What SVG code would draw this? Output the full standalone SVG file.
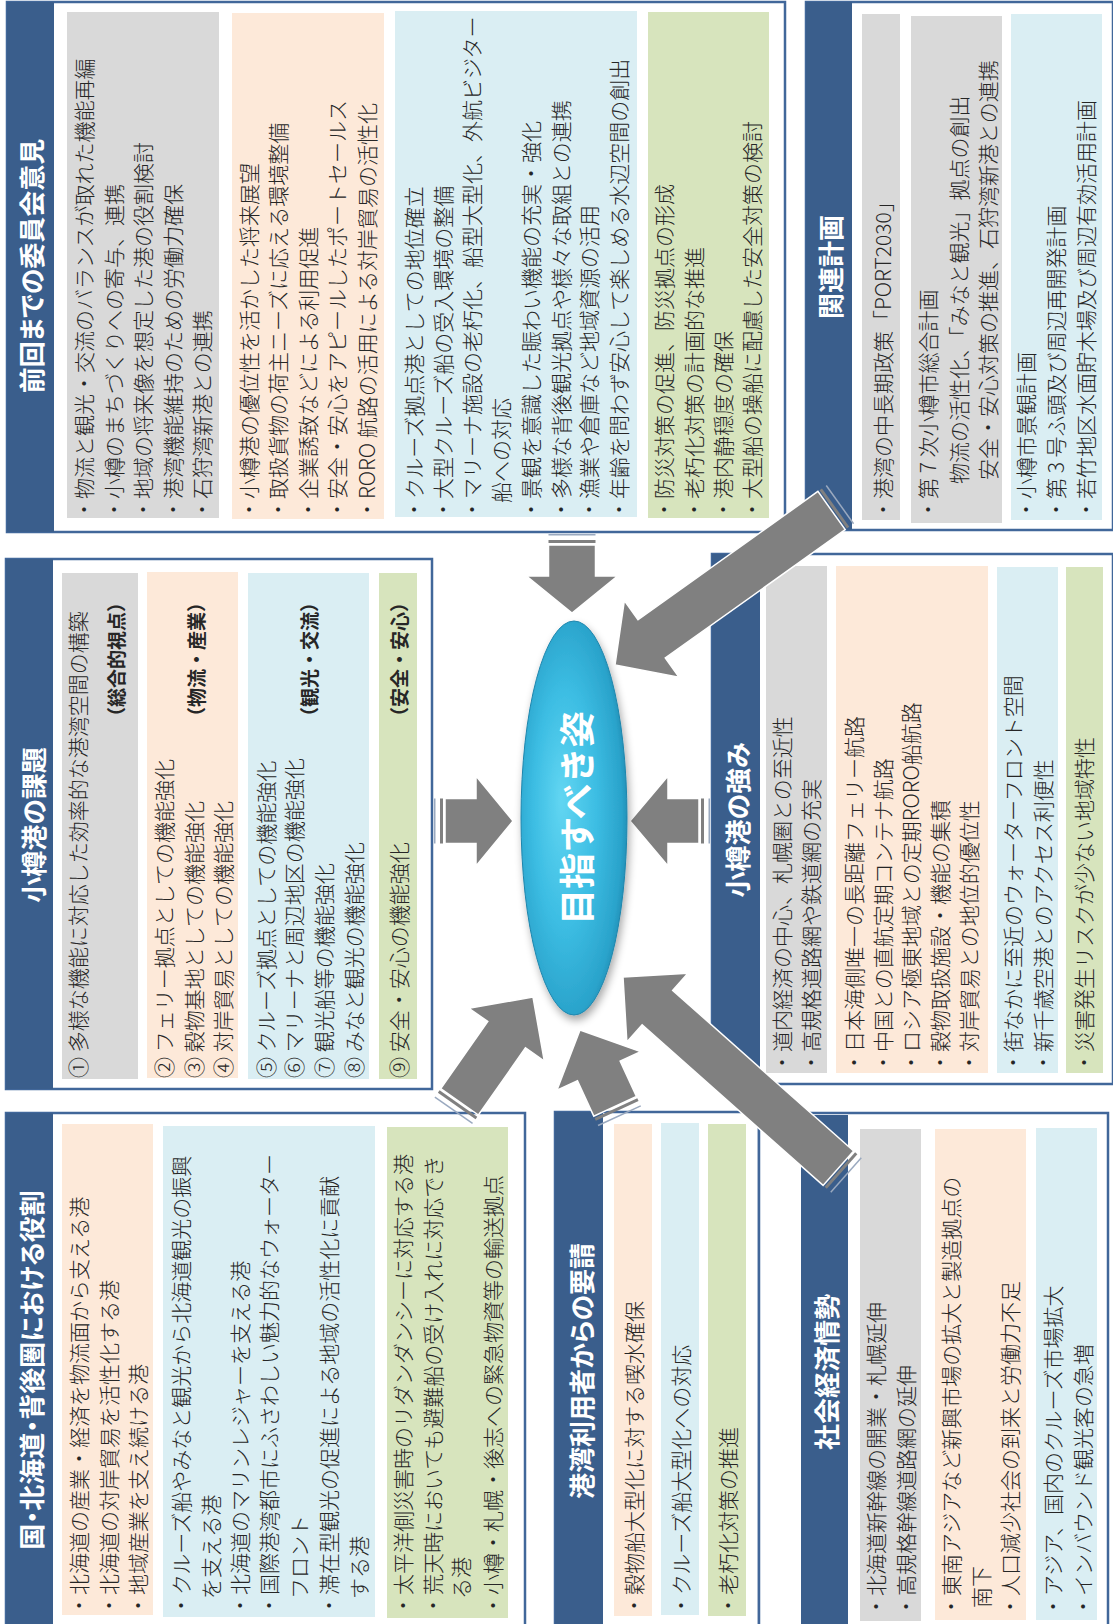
<svg xmlns="http://www.w3.org/2000/svg" width="1113" height="1624" viewBox="0 0 1113 1624">
<defs>
<style>
.frame{fill:#fff;stroke:#41679a;stroke-width:2.5}
.hdr{fill:#3a5e8c}
.g{fill:#d9d9d9}.p{fill:#fde9d9}.b{fill:#daeef3}.gr{fill:#d7e4bd}
text{font-family:"Noto Sans CJK JP","Noto Sans CJK SC",sans-serif;dominant-baseline:central}
.t{font-size:21px;fill:#262626;font-weight:300}
.h{font-size:26px;font-weight:bold;fill:#fff;text-anchor:middle;font-feature-settings:"palt" 1}
.lb{font-size:19px;font-weight:bold;fill:#262626;text-anchor:end}
.ct{font-size:36px;font-weight:bold;fill:#fff;text-anchor:middle}
.arr{fill:#808080;stroke:#fff;stroke-width:1.5}
.s1{fill:#808080}.s2{fill:#9aa9bf}
</style>
<radialGradient id="eg" cx="0.45" cy="0.5" r="0.6" fx="0.38" fy="0.45">
<stop offset="0" stop-color="#62d6f2"/>
<stop offset="0.5" stop-color="#3cbde3"/>
<stop offset="0.85" stop-color="#2aa3cb"/>
<stop offset="1" stop-color="#1c82a8"/>
</radialGradient>
<filter id="sh" x="-30%" y="-10%" width="160%" height="125%">
<feGaussianBlur in="SourceAlpha" stdDeviation="4"/>
<feOffset dx="2" dy="5" result="o"/>
<feComponentTransfer><feFuncA type="linear" slope="0.35"/></feComponentTransfer>
<feMerge><feMergeNode/><feMergeNode in="SourceGraphic"/></feMerge>
</filter>
</defs>
<rect width="1113" height="1624" fill="#fff"/>

<g id="node-iinkai">
<rect class="frame" x="7" y="2" width="778" height="530"/>
<rect class="hdr" x="7" y="2" width="47" height="530"/>
<rect class="g" x="67" y="12" width="152" height="506"/>
<rect class="p" x="232" y="13" width="152" height="506"/>
<rect class="b" x="395" y="11" width="242" height="506"/>
<rect class="gr" x="648" y="12" width="121" height="506"/>
<g transform="matrix(0,-1,1,0,0,1624)">
<text class="h" x="1358" y="30">前回までの委員会意見</text>
<text class="t" x="1104" y="83">・物流と観光・交流のバランスが取れた機能再編</text>
<text class="t" x="1104" y="113">・小樽のまちづくりへの寄与、連携</text>
<text class="t" x="1104" y="142">・地域の将来像を想定した港の役割検討</text>
<text class="t" x="1104" y="172">・港湾機能維持のための労働力確保</text>
<text class="t" x="1104" y="201">・石狩湾新港との連携</text>
<text class="t" x="1104" y="248">・小樽港の優位性を活かした将来展望</text>
<text class="t" x="1104" y="277">・取扱貨物の荷主ニーズに応える環境整備</text>
<text class="t" x="1104" y="307">・企業誘致などによる利用促進</text>
<text class="t" x="1104" y="336">・安全・安心をアピールしたポートセールス</text>
<text class="t" x="1104" y="366">・RORO 航路の活用による対岸貿易の活性化</text>
<text class="t" x="1104" y="413">・クルーズ拠点港としての地位確立</text>
<text class="t" x="1104" y="442">・大型クルーズ船の受入環境の整備</text>
<text class="t" x="1104" y="471">・マリーナ施設の老朽化、船型大型化、外航ビジター</text>
<text class="t" x="1121" y="500">船への対応</text>
<text class="t" x="1104" y="530">・景観を意識した賑わい機能の充実・強化</text>
<text class="t" x="1104" y="560">・多様な背後観光拠点や様々な取組との連携</text>
<text class="t" x="1104" y="588">・漁業や倉庫など地域資源の活用</text>
<text class="t" x="1104" y="618">・年齢を問わず安心して楽しめる水辺空間の創出</text>
<text class="t" x="1104" y="663">・防災対策の促進、防災拠点の形成</text>
<text class="t" x="1104" y="693">・老朽化対策の計画的な推進</text>
<text class="t" x="1104" y="722">・港内静穏度の確保</text>
<text class="t" x="1104" y="751">・大型船の操船に配慮した安全対策の検討</text>
</g>
</g>

<g id="node-kanren">
<rect class="frame" x="806" y="2" width="307" height="528"/>
<rect class="hdr" x="806" y="2" width="46" height="528"/>
<rect class="g" x="862" y="14" width="38" height="506"/>
<rect class="g" x="911" y="16" width="91" height="507"/>
<rect class="b" x="1011" y="14" width="91" height="506"/>
<g transform="matrix(0,-1,1,0,0,1624)">
<text class="h" x="1357" y="829">関連計画</text>
<text class="t" x="1104" y="882">・港湾の中長期政策「PORT2030」</text>
<text class="t" x="1104" y="927">・第 7 次小樽市総合計画</text>
<text class="t" x="1140" y="958">物流の活性化、「みなと観光」拠点の創出</text>
<text class="t" x="1144" y="987">安全・安心対策の推進、石狩湾新港との連携</text>
<text class="t" x="1104" y="1025">・小樽市景観計画</text>
<text class="t" x="1104" y="1055">・第 3 号ふ頭及び周辺再開発計画</text>
<text class="t" x="1104" y="1085">・若竹地区水面貯木場及び周辺有効活用計画</text>
</g>
</g>

<g id="node-kadai">
<rect class="frame" x="6" y="559" width="426" height="530"/>
<rect class="hdr" x="6" y="559" width="47" height="530"/>
<rect class="g" x="62" y="573" width="76" height="506"/>
<rect class="p" x="147" y="572" width="91" height="506"/>
<rect class="b" x="248" y="573" width="121" height="506"/>
<rect class="gr" x="379" y="573" width="38" height="506"/>
<g transform="matrix(0,-1,1,0,0,1624)">
<text class="h" x="799" y="32">小樽港の課題</text>
<text class="t" x="546" y="77">① 多様な機能に対応した効率的な港湾空間の構築</text>
<text class="lb" x="1031" y="115">（総合的視点）</text>
<text class="t" x="546" y="163">② フェリー拠点としての機能強化</text>
<text class="t" x="546" y="193">③ 穀物基地としての機能強化</text>
<text class="t" x="546" y="222">④ 対岸貿易としての機能強化</text>
<text class="lb" x="1031" y="195">（物流・産業）</text>
<text class="t" x="546" y="265">⑤ クルーズ拠点としての機能強化</text>
<text class="t" x="546" y="293">⑥ マリーナと周辺地区の機能強化</text>
<text class="t" x="546" y="323">⑦ 観光船等の機能強化</text>
<text class="t" x="546" y="353">⑧ みなと観光の機能強化</text>
<text class="lb" x="1031" y="308">（観光・交流）</text>
<text class="t" x="546" y="398">⑨ 安全・安心の機能強化</text>
<text class="lb" x="1031" y="398">（安全・安心）</text>
</g>
</g>

<g id="node-tsuyomi">
<rect class="frame" x="712" y="554" width="401" height="530"/>
<rect class="hdr" x="712" y="554" width="48" height="530"/>
<rect class="g" x="766" y="566" width="61" height="507"/>
<rect class="p" x="836" y="566" width="152" height="507"/>
<rect class="b" x="997" y="567" width="61" height="506"/>
<rect class="gr" x="1066" y="567" width="37" height="506"/>
<g transform="matrix(0,-1,1,0,0,1624)">
<text class="h" x="804" y="736">小樽港の強み</text>
<text class="t" x="551" y="781">・道内経済の中心、札幌圏との至近性</text>
<text class="t" x="551" y="810">・高規格道路網や鉄道網の充実</text>
<text class="t" x="551" y="853">・日本海側唯一の長距離フェリー航路</text>
<text class="t" x="551" y="882">・中国との直航定期コンテナ航路</text>
<text class="t" x="551" y="910">・ロシア極東地域との定期RORO船航路</text>
<text class="t" x="551" y="939">・穀物取扱施設・機能の集積</text>
<text class="t" x="551" y="968">・対岸貿易との地位的優位性</text>
<text class="t" x="551" y="1012">・街なかに至近のウォーターフロント空間</text>
<text class="t" x="551" y="1042">・新千歳空港とのアクセス利便性</text>
<text class="t" x="551" y="1083">・災害発生リスクが少ない地域特性</text>
</g>
</g>

<g id="node-yakuwari">
<rect class="frame" x="6" y="1113" width="519" height="515"/>
<rect class="hdr" x="6" y="1113" width="47" height="515"/>
<rect class="p" x="62" y="1124" width="91" height="491"/>
<rect class="b" x="163" y="1126" width="212" height="491"/>
<rect class="gr" x="387" y="1127" width="121" height="491"/>
<g transform="matrix(0,-1,1,0,0,1624)">
<text class="h" x="254" y="30">国・北海道・背後圏における役割</text>
<text class="t" x="8" y="78">・北海道の産業・経済を物流面から支える港</text>
<text class="t" x="8" y="108">・北海道の対岸貿易を活性化する港</text>
<text class="t" x="8" y="137">・地域産業を支え続ける港</text>
<text class="t" x="8" y="180">・クルーズ船やみなと観光から北海道観光の振興</text>
<text class="t" x="25" y="210">を支える港</text>
<text class="t" x="8" y="239">・北海道のマリンレジャーを支える港</text>
<text class="t" x="8" y="268">・国際港湾都市にふさわしい魅力的なウォーター</text>
<text class="t" x="25" y="298">フロント</text>
<text class="t" x="8" y="328">・滞在型観光の促進による地域の活性化に貢献</text>
<text class="t" x="25" y="358">する港</text>
<text class="t" x="8" y="402">・太平洋側災害時のリダンダンシーに対応する港</text>
<text class="t" x="8" y="432">・荒天時においても避難船の受け入れに対応でき</text>
<text class="t" x="25" y="460">る港</text>
<text class="t" x="8" y="492">・小樽・札幌・後志への緊急物資等の輸送拠点</text>
</g>
</g>

<g id="node-yousei">
<rect class="frame" x="555" y="1112" width="204" height="516"/>
<rect class="hdr" x="555" y="1112" width="48" height="516"/>
<rect class="p" x="614" y="1124" width="38" height="492"/>
<rect class="b" x="661" y="1123" width="38" height="492"/>
<rect class="gr" x="708" y="1124" width="38" height="492"/>
<g transform="matrix(0,-1,1,0,0,1624)">
<text class="h" x="253" y="580">港湾利用者からの要請</text>
<text class="t" x="8" y="633">・穀物船大型化に対する喫水確保</text>
<text class="t" x="8" y="680">・クルーズ船大型化への対応</text>
<text class="t" x="8" y="727">・老朽化対策の推進</text>
</g>
</g>

<g id="node-shakai">
<rect class="frame" x="759" y="1113" width="349" height="515"/>
<rect class="hdr" x="801" y="1115" width="47" height="513"/>
<rect class="g" x="860" y="1129" width="61" height="492"/>
<rect class="p" x="935" y="1129" width="91" height="491"/>
<rect class="b" x="1036" y="1128" width="61" height="492"/>
<g transform="matrix(0,-1,1,0,0,1624)">
<text class="h" x="252" y="825">社会経済情勢</text>
<text class="t" x="7" y="875">・北海道新幹線の開業・札幌延伸</text>
<text class="t" x="7" y="905">・高規格幹線道路網の延伸</text>
<text class="t" x="7" y="950">・東南アジアなど新興市場の拡大と製造拠点の</text>
<text class="t" x="16" y="980">南下</text>
<text class="t" x="7" y="1009">・人口減少社会の到来と労働力不足</text>
<text class="t" x="7" y="1052">・アジア、国内のクルーズ市場拡大</text>
<text class="t" x="7" y="1082">・インバウンド観光客の急増</text>
</g>
</g>

<g id="connectors">
<g transform="translate(572,613) rotate(90)">
<polygon class="arr" points="-68,-23.5 -37,-23.5 -37,-45.5 0,0 -37,45.5 -37,23.5 -68,23.5"/>
<rect class="s1" x="-73" y="-23.5" width="3" height="47"/><rect class="s2" x="-79" y="-23.5" width="1.5" height="47"/>
</g>
<g transform="translate(513,821)">
<polygon class="arr" points="-68,-22.5 -37,-22.5 -37,-45 0,0 -37,45 -37,22.5 -68,22.5"/>
<rect class="s1" x="-73" y="-22.5" width="3" height="45"/><rect class="s2" x="-79" y="-22.5" width="1.5" height="45"/>
</g>
<g transform="translate(630,821) rotate(180)">
<polygon class="arr" points="-69,-22.5 -38,-22.5 -38,-45 0,0 -38,45 -38,22.5 -69,22.5"/>
<rect class="s1" x="-74" y="-22.5" width="3" height="45"/><rect class="s2" x="-80" y="-22.5" width="1.5" height="45"/>
</g>
<g transform="translate(615,665) rotate(144.5)">
<polygon class="arr" points="-266,-23.5 -45,-23.5 -45,-47 0,0 -45,47 -45,23.5 -266,23.5"/>
<rect class="s1" x="-271" y="-23.5" width="3" height="47"/><rect class="s2" x="-277" y="-23.5" width="1.5" height="47"/>
</g>
<g transform="translate(533,997) rotate(-55)">
<polygon class="arr" points="-128,-23 -46,-23 -46,-46 0,0 -46,46 -46,23 -128,23"/>
<rect class="s1" x="-133" y="-23" width="3" height="46"/><rect class="s2" x="-139" y="-23" width="1.5" height="46"/>
</g>
<g transform="translate(580,1030) rotate(-114.7)">
<polygon class="arr" points="-84,-23.5 -45,-23.5 -45,-46 0,0 -45,46 -45,23.5 -84,23.5"/>
<rect class="s1" x="-89" y="-23.5" width="3" height="47"/><rect class="s2" x="-95" y="-23.5" width="1.5" height="47"/>
</g>
<g transform="translate(623,977) rotate(-138.4)">
<polygon class="arr" points="-288,-23 -46,-23 -46,-46 0,0 -46,46 -46,23 -288,23"/>
<rect class="s1" x="-293" y="-23" width="3" height="46"/><rect class="s2" x="-299" y="-23" width="1.5" height="46"/>
</g>
</g>

<g id="node-mezasu">
<ellipse cx="574" cy="818" rx="53" ry="197" fill="url(#eg)" stroke="#1f86ad" stroke-width="1" filter="url(#sh)"/>
<g transform="matrix(0,-1,1,0,0,1624)">
<text class="ct" x="806" y="575">目指すべき姿</text>
</g>
</g>
</svg>
